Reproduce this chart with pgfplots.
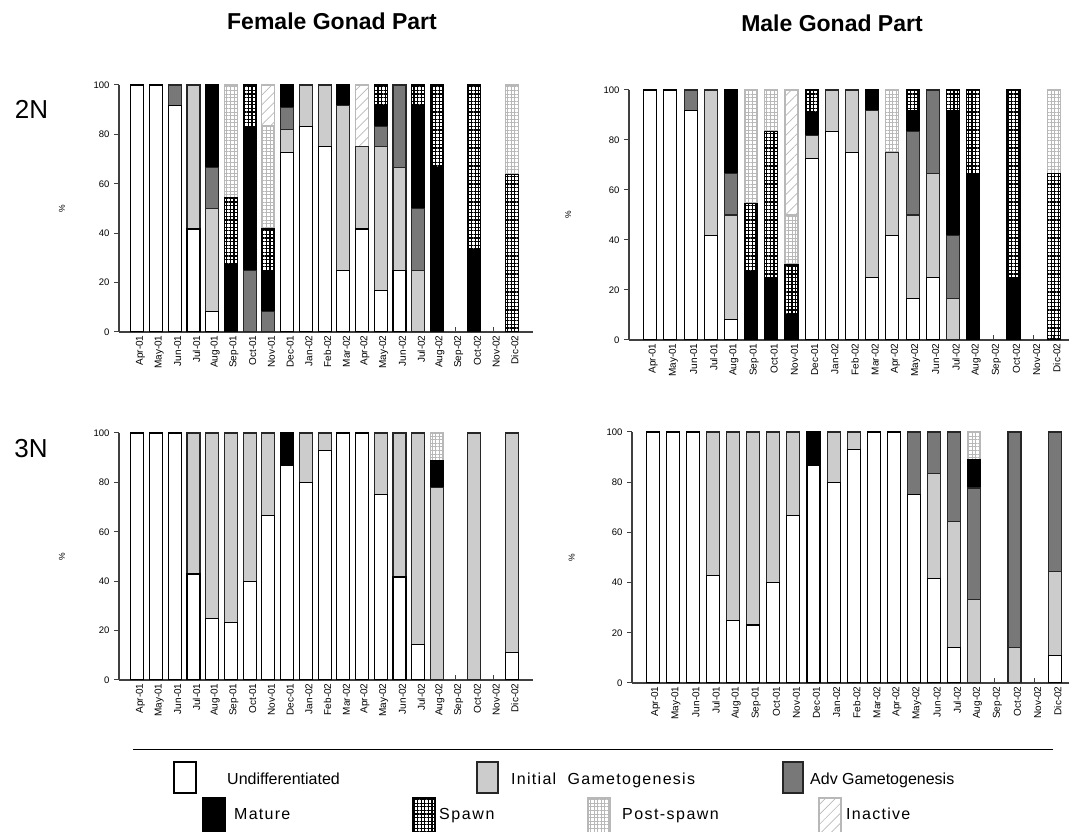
\documentclass[border=0pt]{standalone}
\usepackage{fontspec}
\setmainfont{Liberation Sans}
\usepackage{pgfplots}
\pgfplotsset{compat=1.18}
\usepackage{pgfplotstable}
\usetikzlibrary{patterns.meta}

\definecolor{cInit}{HTML}{CCCCCC}
\definecolor{cAdv}{HTML}{787878}
\definecolor{cPost}{HTML}{B8B8B8}
\definecolor{cAxis}{HTML}{404040}

% columns: U=Undifferentiated I=Initial A=Adv M=Mature S=Spawn P=Post-spawn N=Inactive
\pgfplotstableread{
x U I A M S P N
1 100 0 0 0 0 0 0
2 100 0 0 0 0 0 0
3 91.7 0 8.3 0 0 0 0
4 41.7 58.3 0 0 0 0 0
5 8.3 41.7 16.7 33.3 0 0 0
6 0 0 0 27.3 27.3 45.4 0
7 0 0 25 58.3 16.7 0 0
8 0 0 8.3 16.7 16.7 41.7 16.6
9 72.7 9.1 9.1 9.1 0 0 0
10 83.3 16.7 0 0 0 0 0
11 75 25 0 0 0 0 0
12 25 66.7 0 8.3 0 0 0
13 41.7 33.3 0 0 0 0 25
14 16.7 58.3 8.3 8.3 8.4 0 0
15 25 41.7 33.3 0 0 0 0
16 0 25 25 41.7 8.3 0 0
17 0 0 0 66.7 33.3 0 0
18 0 0 0 0 0 0 0
19 0 0 0 33.3 66.7 0 0
20 0 0 0 0 0 0 0
21 0 0 0 0 63.6 36.4 0
}\dFtwo

\pgfplotstableread{
x U I A M S P N
1 100 0 0 0 0 0 0
2 100 0 0 0 0 0 0
3 91.7 0 8.3 0 0 0 0
4 41.7 58.3 0 0 0 0 0
5 8.3 41.7 16.7 33.3 0 0 0
6 0 0 0 27.3 27.3 45.4 0
7 0 0 0 25 58.3 16.7 0
8 0 0 0 10 20 20 50
9 72.7 9.1 0 9.1 9.1 0 0
10 83.3 16.7 0 0 0 0 0
11 75 25 0 0 0 0 0
12 25 66.7 0 8.3 0 0 0
13 41.7 33.3 0 0 0 25 0
14 16.7 33.3 33.3 8.3 8.4 0 0
15 25 41.7 33.3 0 0 0 0
16 0 16.7 25 50 8.3 0 0
17 0 0 0 66.7 33.3 0 0
18 0 0 0 0 0 0 0
19 0 0 0 25 75 0 0
20 0 0 0 0 0 0 0
21 0 0 0 0 66.7 33.3 0
}\dMtwo

\pgfplotstableread{
x U I A M S P N
1 100 0 0 0 0 0 0
2 100 0 0 0 0 0 0
3 100 0 0 0 0 0 0
4 42.9 57.1 0 0 0 0 0
5 25 75 0 0 0 0 0
6 23.1 76.9 0 0 0 0 0
7 40 60 0 0 0 0 0
8 66.7 33.3 0 0 0 0 0
9 86.7 0 0 13.3 0 0 0
10 80 20 0 0 0 0 0
11 92.9 7.1 0 0 0 0 0
12 100 0 0 0 0 0 0
13 100 0 0 0 0 0 0
14 75 25 0 0 0 0 0
15 41.7 58.3 0 0 0 0 0
16 14.3 85.7 0 0 0 0 0
17 0 77.8 0 11.1 0 11.1 0
18 0 0 0 0 0 0 0
19 0 100 0 0 0 0 0
20 0 0 0 0 0 0 0
21 11.1 88.9 0 0 0 0 0
}\dFthree

\pgfplotstableread{
x U I A M S P N
1 100 0 0 0 0 0 0
2 100 0 0 0 0 0 0
3 100 0 0 0 0 0 0
4 42.9 57.1 0 0 0 0 0
5 25 75 0 0 0 0 0
6 23.1 76.9 0 0 0 0 0
7 40 60 0 0 0 0 0
8 66.7 33.3 0 0 0 0 0
9 86.7 0 0 13.3 0 0 0
10 80 20 0 0 0 0 0
11 92.9 7.1 0 0 0 0 0
12 100 0 0 0 0 0 0
13 100 0 0 0 0 0 0
14 75 0 25 0 0 0 0
15 41.7 41.7 16.6 0 0 0 0
16 14.3 50 35.7 0 0 0 0
17 0 33.3 44.4 11.2 0 11.1 0
18 0 0 0 0 0 0 0
19 0 14.3 85.7 0 0 0 0
20 0 0 0 0 0 0 0
21 11.1 33.3 55.6 0 0 0 0
}\dMthree

\tikzset{
 sU/.style={fill=white,draw=black,line width=1.1pt},
 sI/.style={fill=cInit,draw=black!85,line width=1.1pt},
 sA/.style={fill=cAdv,draw=black!85,line width=1.1pt},
 sM/.style={fill=black,draw=black,line width=1.1pt},
 sS/.style={pattern={Hatch[angle=0,distance=3.6pt,line width=1.3pt]},pattern color=black,draw=black,line width=1.1pt},
 sP/.style={pattern={Hatch[angle=0,distance=3.6pt,line width=0.9pt]},pattern color=cPost,draw=cPost,line width=1.1pt},
 sN/.style={pattern={Lines[angle=45,distance=7pt,line width=0.7pt]},pattern color=cPost,draw=cPost,line width=1.1pt},
}

\pgfplotsset{gonad/.style={
 scale only axis, ybar stacked, bar width=13pt,
 enlargelimits=false,
 ymin=0, ymax=100, ytick={0,20,40,60,80,100},
 xtick={1,...,21},
 xticklabels={Apr-01,May-01,Jun-01,Jul-01,Aug-01,Sep-01,Oct-01,Nov-01,Dec-01,Jan-02,Feb-02,Mar-02,Apr-02,May-02,Jun-02,Jul-02,Aug-02,Sep-02,Oct-02,Nov-02,Dic-02},
 axis x line*=bottom, axis y line*=left,
 axis line style={draw=cAxis,line width=1.3pt},
 tick align=inside, major tick length=5pt,
 tick style={draw=cAxis,line width=1pt},
 y tick style={xshift=-5pt},
 xticklabel style={rotate=90,anchor=east,font=\fontsize{10}{11}\selectfont,yshift=-3pt},
 yticklabel style={font=\fontsize{9.5}{10}\selectfont,xshift=-6pt},
 /pgf/number format/assume math mode=true,
 ylabel={\%},
 ylabel style={at={(axis description cs:-0.138,0.5)},anchor=center,font=\fontsize{8.5}{9}\selectfont},
}}

\newcommand{\allseries}[1]{%
 \addplot[sU] table[x=x,y=U]{#1};
 \addplot[sI] table[x=x,y=I]{#1};
 \addplot[sA] table[x=x,y=A]{#1};
 \addplot[sM] table[x=x,y=M]{#1};
 \addplot[sS] table[x=x,y=S]{#1};
 \addplot[sP] table[x=x,y=P]{#1};
 \addplot[sN] table[x=x,y=N]{#1};
}

\begin{document}
\begin{tikzpicture}[x=1pt,y=1pt]
\useasboundingbox (0,0) rectangle (1069,832);

\begin{axis}[gonad, at={(119pt,500pt)}, anchor=south west, width=414pt, height=247pt, xmin=0.02, xmax=22.13]
\allseries{\dFtwo}
\end{axis}

\begin{axis}[gonad, at={(629pt,492pt)}, anchor=south west, width=441pt, height=250pt, xmin=-0.05, xmax=21.8]
\allseries{\dMtwo}
\end{axis}

\begin{axis}[gonad, at={(119pt,152pt)}, anchor=south west, width=414pt, height=247pt, xmin=0.02, xmax=22.13]
\allseries{\dFthree}
\end{axis}

\begin{axis}[gonad, at={(632pt,149pt)}, anchor=south west, width=437pt, height=251pt, xmin=-0.03, xmax=21.71]
\allseries{\dMthree}
\end{axis}

% titles
\node[font=\bfseries\fontsize{23}{26}\selectfont] at (332,810.5) {Female Gonad Part};
\node[font=\bfseries\fontsize{23}{26}\selectfont] at (832,808.5) {Male Gonad Part};
\node[font=\fontsize{26}{30}\selectfont] at (31.5,723) {2N};
\node[font=\fontsize{26}{30}\selectfont] at (31,383) {3N};

% legend
\draw[black,line width=1pt] (133,82) -- (1053,82);
\draw[sU] (174,39) rectangle (196,70);
\node[anchor=base west,font=\fontsize{16}{18}\selectfont,inner sep=0pt] at (227,47) {Undifferentiated};
\draw[sI] (477,39) rectangle (498,70);
\node[anchor=base west,font=\fontsize{16}{18}\selectfont\addfontfeature{LetterSpace=8},inner sep=0pt] at (511,47) {Initial\ \ Gametogenesis};
\draw[sA] (783,39) rectangle (803,70);
\node[anchor=base west,font=\fontsize{16}{18}\selectfont,inner sep=0pt] at (810,47) {Adv Gametogenesis};

\draw[sM] (203,-3) rectangle (225,34);
\node[anchor=base west,font=\fontsize{16}{18}\selectfont\addfontfeature{LetterSpace=8},inner sep=0pt] at (234,12) {Mature};
\draw[sS] (413,-3) rectangle (435,34);
\node[anchor=base west,font=\fontsize{16}{18}\selectfont\addfontfeature{LetterSpace=10},inner sep=0pt] at (439,12) {Spawn};
\draw[sP] (588,-3) rectangle (610,34);
\node[anchor=base west,font=\fontsize{16}{18}\selectfont\addfontfeature{LetterSpace=9},inner sep=0pt] at (622,12) {Post-spawn};
\draw[sN] (819,-3) rectangle (841,34);
\node[anchor=base west,font=\fontsize{16}{18}\selectfont\addfontfeature{LetterSpace=8},inner sep=0pt] at (846,12) {Inactive};
\end{tikzpicture}
\end{document}
